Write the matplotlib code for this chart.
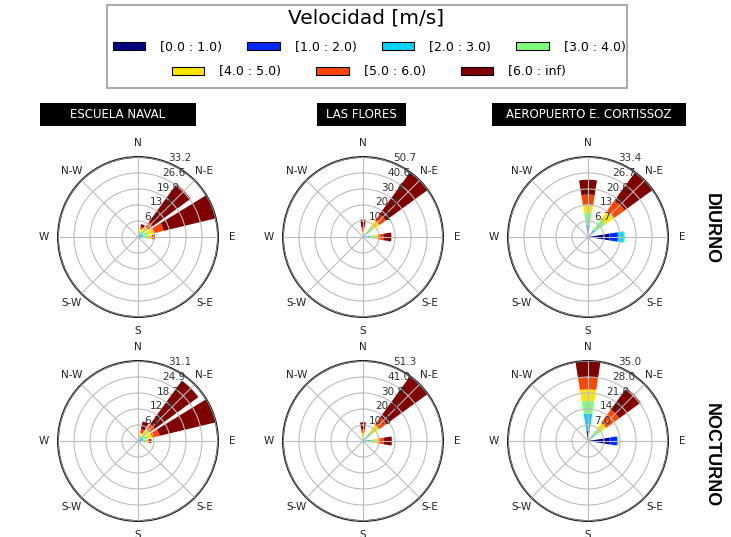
import numpy as np
import matplotlib.pyplot as plt
from matplotlib.patches import Patch, Rectangle

speed_bins = ["[0.0 : 1.0)", "[1.0 : 2.0)", "[2.0 : 3.0)", "[3.0 : 4.0)",
              "[4.0 : 5.0)", "[5.0 : 6.0)", "[6.0 : inf)"]
stations = ["ESCUELA NAVAL", "LAS FLORES", "AEROPUERTO E. CORTISSOZ"]
periods = ["DIURNO", "NOCTURNO"]
dir_labels = ["N", "N-E", "E", "S-E", "S", "S-W", "W", "N-W"]
nsector = 16

# frequency (%) by sector (0 = N, clockwise, 16 sectors) and speed bin
naval_dia = {1: [0.2, 0.4, 0.8, 1.0, 1.2, 0.9, 1.0],
             2: [0.2, 0.5, 1.0, 1.5, 2.0, 2.5, 19.3],
             3: [0.3, 0.7, 1.2, 1.8, 3.0, 4.0, 22.2],
             4: [0.3, 0.8, 1.2, 1.5, 2.0, 0.8, 0.4]}
flores_dia = {0: [0.1, 0.3, 0.6, 1.0, 1.5, 2.5, 5.0],
              2: [0.3, 1.0, 2.5, 4.0, 5.0, 5.0, 32.9],
              4: [0.5, 1.0, 3.0, 3.0, 2.0, 3.5, 5.0]}
aero_dia = {0: [0.1, 0.6, 4.4, 4.9, 3.5, 4.2, 6.2],
            2: [0.3, 1.0, 2.7, 5.0, 4.5, 5.5, 14.4],
            4: [9.0, 3.5, 2.5, 0.4, 0.0, 0.0, 0.0],
            8: [0.3, 0.5, 0.5, 0.2, 0.0, 0.0, 0.0]}
naval_noche = {1: [0.1, 0.3, 0.6, 1.0, 1.3, 1.5, 3.0],
               2: [0.2, 0.6, 1.2, 1.6, 2.0, 2.5, 20.9],
               3: [0.3, 0.7, 1.2, 1.5, 2.0, 3.0, 22.4],
               4: [0.3, 0.8, 1.0, 1.0, 0.8, 0.6, 0.7]}
flores_noche = {0: [0.2, 0.4, 1.0, 1.5, 2.0, 2.4, 4.5],
                2: [0.3, 1.0, 2.5, 4.0, 5.0, 6.0, 32.5],
                4: [0.5, 1.0, 3.0, 3.0, 2.5, 3.5, 5.0]}
aero_noche = {0: [1.5, 3.0, 7.5, 5.5, 5.1, 5.2, 7.2],
              2: [0.3, 1.0, 2.0, 3.0, 3.5, 7.2, 11.5],
              4: [9.5, 3.2, 0.5, 0.0, 0.0, 0.0, 0.0]}

roses = [[naval_dia, flores_dia, aero_dia],
         [naval_noche, flores_noche, aero_noche]]

colors = plt.cm.jet(np.linspace(0, 1, len(speed_bins)))

W, H = 731, 537
fig = plt.figure(figsize=(W / 100, H / 100), dpi=100)

R = 80
centers_x = [138, 363, 588]
centers_y = [237, 441]
# title box extents in pixels (left, right)
title_boxes = [(40, 196), (317, 406), (492, 686)]


def draw_rose(ax, table):
    dtheta = 2 * np.pi / nsector
    width = dtheta * 0.8
    totals = []
    for sec, vals in table.items():
        base = 0.0
        for i, v in enumerate(vals):
            if v > 0:
                ax.bar(sec * dtheta, v, width=width, bottom=base,
                       color=colors[i], edgecolor='none', zorder=1)
            base += v
        totals.append(base)
    rmax = max(totals)
    ax.set_theta_zero_location('N')
    ax.set_theta_direction(-1)
    ax.set_ylim(0, rmax)
    radii = np.linspace(0, rmax, 6)[1:]
    ax.set_rgrids(radii, labels=[''] * len(radii))
    ax.set_thetagrids(range(0, 360, 45), dir_labels, fontsize=7.5, color='#222222')
    ax.tick_params(axis='x', pad=-0.5)
    ax.set_axisbelow(False)
    ax.grid(True, color='#bcbcbc', lw=0.8, ls='-')
    ax.spines['polar'].set_linewidth(1.4)
    ax.spines['polar'].set_color('#1a1a1a')
    for r in radii:
        ax.text(np.deg2rad(22.5), r, '%.1f' % r, fontsize=7.5, color='#333333',
                ha='left', va='bottom', zorder=5)


for row in range(2):
    for col in range(3):
        cx, cy = centers_x[col], centers_y[row]
        ax = fig.add_axes([(cx - R) / W, 1 - (cy + R) / H, 2 * R / W, 2 * R / H],
                          projection='polar')
        draw_rose(ax, roses[row][col])

# station titles
for (x0, x1), name in zip(title_boxes, stations):
    fig.add_artist(Rectangle((x0 / W, 1 - 126 / H), (x1 - x0) / W, 23 / H,
                             transform=fig.transFigure, facecolor='black', edgecolor='none'))
    fig.text((x0 + x1) / 2 / W, 1 - 114.5 / H, name, color='white', fontsize=8.5,
             ha='center', va='center')

# period labels
for row, name in enumerate(periods):
    fig.text(711 / W, 1 - [229, 455][row] / H, name, rotation=-90, fontsize=13,
             fontweight='bold', family='Liberation Sans', ha='center', va='center')

# legend
fig.add_artist(Rectangle((107 / W, 1 - 88 / H), 520 / W, 83 / H, transform=fig.transFigure,
                         facecolor='white', edgecolor='#aaaaaa', lw=1.5, zorder=0))
fig.text(366 / W, 1 - 18 / H, "Velocidad [m/s]", fontsize=14.5, ha='center', va='center')
handles = [Patch(facecolor=c, edgecolor='black', lw=0.8) for c in colors]
fig.legend(handles[:4], speed_bins[:4], ncol=4, loc='center', bbox_to_anchor=(0.505, 1 - 47 / H),
           frameon=False, fontsize=9, handlelength=2.6, handleheight=0.65,
           handletextpad=1.2, columnspacing=2.0)
fig.legend(handles[4:], speed_bins[4:], ncol=3, loc='center', bbox_to_anchor=(0.505, 1 - 72 / H),
           frameon=False, fontsize=9, handlelength=2.6, handleheight=0.65,
           handletextpad=1.2, columnspacing=2.8)

fig.savefig('out.png', dpi=100)
